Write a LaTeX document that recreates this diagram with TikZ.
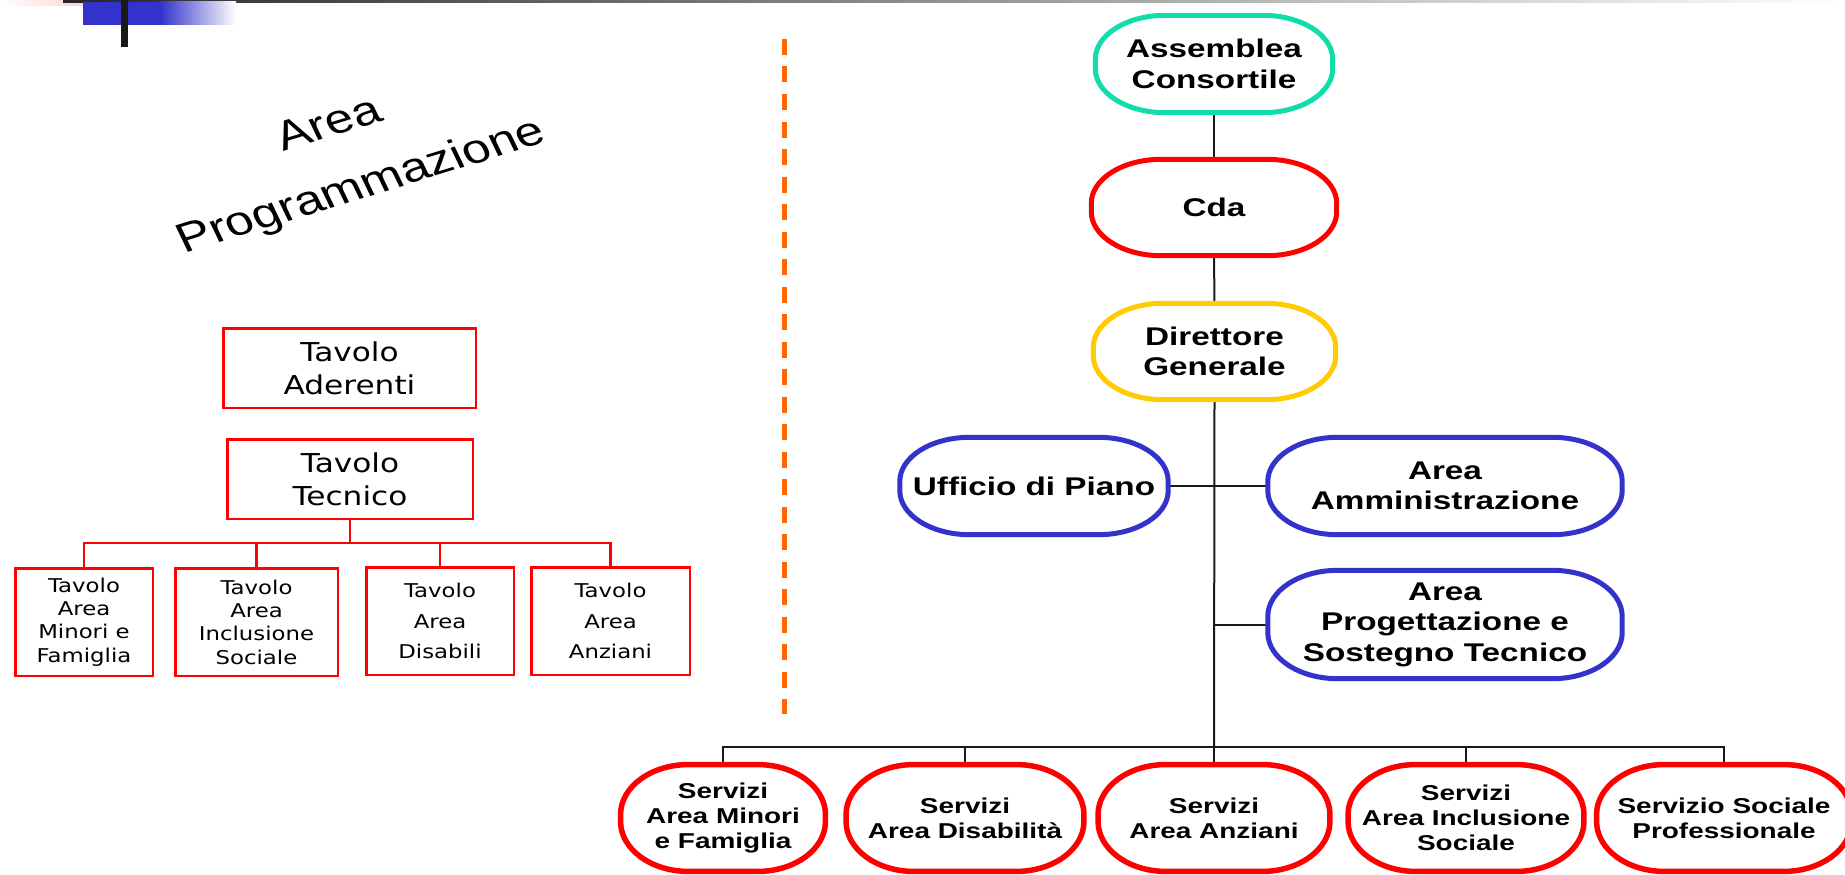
\documentclass[tikz,border=0pt]{standalone}
\usepackage{fontspec}
\setmainfont{Liberation Sans}
\newfontfamily\orgfont[FakeStretch=1.3]{Liberation Sans}
\newfontfamily\tabfont[FakeStretch=1.2]{DejaVu Sans}
\usetikzlibrary{calc}

\definecolor{asmgreen}{HTML}{11DDAA}
\definecolor{boardred}{HTML}{FF0000}
\definecolor{dgyellow}{HTML}{FFCC00}
\definecolor{areablue}{HTML}{3333CC}
\definecolor{seporange}{HTML}{FF6600}
\definecolor{linkgray}{HTML}{1A1A1A}
\definecolor{ribbonpink}{HTML}{FFC4C4}

% outline with elliptical corners around a node: name, x radius, y radius, style
\newcommand\orgoutline[4]{%
  \draw[#4] ([xshift=#2]#1.north west) -- ([xshift=-#2]#1.north east)
    arc[start angle=90,end angle=0,x radius=#2,y radius=#3]
    -- ([yshift=#3]#1.south east)
    arc[start angle=0,end angle=-90,x radius=#2,y radius=#3]
    -- ([xshift=#2]#1.south west)
    arc[start angle=-90,end angle=-180,x radius=#2,y radius=#3]
    -- ([yshift=-#3]#1.north west)
    arc[start angle=180,end angle=90,x radius=#2,y radius=#3] -- cycle;}

\tikzset{
  orgnode/.style={inner sep=0pt, align=center,
    font=\orgfont\bfseries\fontsize{25.6}{30.5}\selectfont},
  servnode/.style={inner sep=0pt, align=center, minimum height=106.5,
    font=\orgfont\bfseries\fontsize{21.5}{25}\selectfont},
  topline/.style={line width=5pt},
  servline/.style={line width=5.5pt, draw=boardred},
  link/.style={draw=linkgray, line width=2pt},
  tabbig/.style={draw=boardred, line width=2.5pt, inner sep=0pt, align=center,
    font=\tabfont\fontsize{26}{33}\selectfont},
  tabsmall/.style={draw=boardred, line width=2.5pt, inner sep=0pt, align=center,
    minimum height=107.5, font=\tabfont\fontsize{19}{23.3}\selectfont},
  tabwide/.style={tabsmall, font=\tabfont\fontsize{19}{30.5}\selectfont},
  tablink/.style={draw=boardred, line width=2.8pt},
  slanted/.style={inner sep=0pt, font=\fontsize{41}{48}\selectfont,
    cm={1.167,0.358,-0.448,0.934,(0,0)}}
}

\begin{document}
\begin{tikzpicture}[x=1pt,y=1pt]
\clip (0,0) rectangle (1845,-875);
\useasboundingbox (0,0) rectangle (1845,-875);

% header ribbon
\shade[left color=white, right color=ribbonpink] (0,0) rectangle (113,-6);
\shade[left color=black!85, right color=white] (63,0) rectangle (1845,-2.2);
\fill[areablue] (83,-2) rectangle (160,-25);
\shade[left color=areablue, right color=white] (160,-2) rectangle (236,-25);
\fill[black!90] (121,0) rectangle (128,-47);

% separator
\draw[draw=seporange, line width=5pt, dash pattern=on 16pt off 11.5pt]
  (784.5,-39) -- (784.5,-714);

% ---- planning area ----
\node[slanted] (areaword) at (328,-123) {Area};
\node[slanted] (progword) at (361.5,-187.5) {Programmazione};

\node[tabbig, minimum width=252.5, minimum height=79.5] (aderenti) at (349.5,-368) {Tavolo\\Aderenti};
\node[tabbig, minimum width=245.5, minimum height=79.5] (tecnico) at (350,-479) {Tavolo\\Tecnico};

\node[tabsmall, minimum width=137.5] (tminori) at (84,-622) {Tavolo\\Area\\Minori e\\Famiglia};
\node[tabsmall, minimum width=162.5] (tinclus) at (256.5,-622) {Tavolo\\Area\\Inclusione\\Sociale};
\node[tabwide, minimum width=147.5] (tdisab) at (440,-621) {Tavolo\\Area\\Disabili};
\node[tabwide, minimum width=158.5] (tanz) at (610.5,-621) {Tavolo\\Area\\Anziani};

\coordinate (lbus) at (350,-543);
\draw[tablink] (tecnico.south) -- (tecnico.south |- lbus);
\draw[tablink] (tminori.north) -- (tminori.north |- lbus) -- (tanz.north |- lbus) -- (tanz.north);
\draw[tablink] (tinclus.north) -- (tinclus.north |- lbus);
\draw[tablink] (tdisab.north) -- (tdisab.north |- lbus);

% ---- organisation chart ----
\node[orgnode, minimum width=237, minimum height=97] (asm) at (1214,-64) {Assemblea\\Consortile};
\node[orgnode, minimum width=245, minimum height=96] (cda) at (1214,-207.5) {Cda};
\node[orgnode, minimum width=242, minimum height=96] (dg) at (1214.5,-351.5) {Direttore\\Generale};
\node[orgnode, minimum width=268, minimum height=97] (udp) at (1034,-486) {Ufficio di Piano};
\node[orgnode, minimum width=354, minimum height=97] (amm) at (1445,-486) {Area\\Amministrazione};
\node[orgnode, minimum width=354, minimum height=108] (prog) at (1445,-624.5) {Area\\Progettazione e\\Sostegno Tecnico};

\node[servnode, minimum width=204.5] (sminori) at (723,-818) {Servizi\\Area Minori\\e Famiglia};
\node[servnode, minimum width=237.5] (sdisab) at (965,-818) {Servizi\\Area Disabilità};
\node[servnode, minimum width=231.5] (sanz) at (1214,-818) {Servizi\\Area Anziani};
\node[servnode, minimum width=235.5] (sinclus) at (1466,-818) {Servizi\\Area Inclusione\\Sociale};
\node[servnode, minimum width=254.5] (sprof) at (1724,-818) {Servizio Sociale\\Professionale};

\coordinate (rbus) at (1214,-747);
\draw[link] (asm.south) -- (cda.north);
\draw[link] (cda.south) -- (dg.north);
\draw[link] (dg.south) -- (rbus);
\draw[link] (udp.east) -- (amm.west);
\draw[link] (prog.west) -- (prog.west -| dg.south);
\draw[link] (sminori.north) -- (sminori.north |- rbus) -- (sprof.north |- rbus) -- (sprof.north);
\draw[link] (sdisab.north) -- (sdisab.north |- rbus);
\draw[link] (sanz.north) -- (sanz.north |- rbus);
\draw[link] (sinclus.north) -- (sinclus.north |- rbus);

\orgoutline{asm}{70}{44}{topline, draw=asmgreen}
\orgoutline{cda}{70}{44}{topline, draw=boardred}
\orgoutline{dg}{70}{44}{topline, draw=dgyellow}
\orgoutline{udp}{70}{44}{topline, draw=areablue}
\orgoutline{amm}{70}{44}{topline, draw=areablue}
\orgoutline{prog}{70}{46}{topline, draw=areablue}
\orgoutline{sminori}{68}{50}{servline}
\orgoutline{sdisab}{68}{50}{servline}
\orgoutline{sanz}{68}{50}{servline}
\orgoutline{sinclus}{68}{50}{servline}
\orgoutline{sprof}{68}{50}{servline}
\end{tikzpicture}
\end{document}
